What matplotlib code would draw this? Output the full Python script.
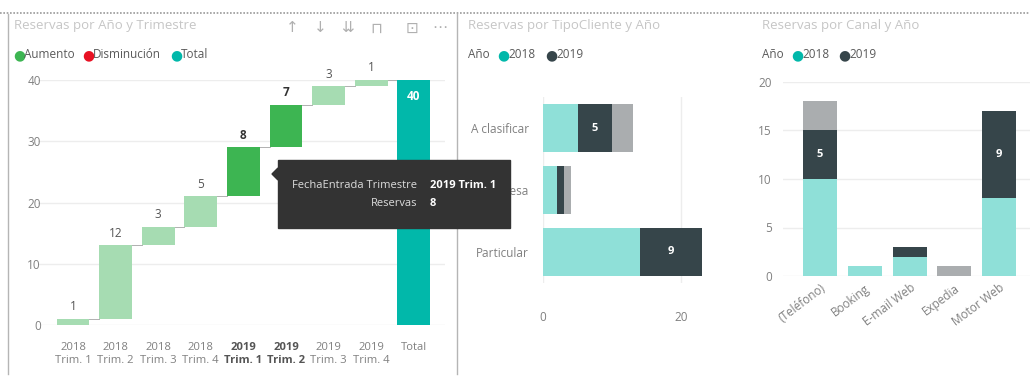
import matplotlib
matplotlib.use("Agg")
import matplotlib.pyplot as plt
from matplotlib.patches import Rectangle, Polygon
from matplotlib.lines import Line2D

plt.rcParams["font.family"] = ["Open Sans", "DejaVu Sans"]

# ── data ──────────────────────────────────────────────────────────────────────
wf_years = ["2018", "2018", "2018", "2018", "2019", "2019", "2019", "2019", "Total"]
wf_trims = ["Trim. 1", "Trim. 2", "Trim. 3", "Trim. 4",
            "Trim. 1", "Trim. 2", "Trim. 3", "Trim. 4", ""]
wf_values = [1, 12, 3, 5, 8, 7, 3, 1]
wf_selected = [False, False, False, False, True, True, False, False]

tipo_cats = ["A clasificar", "Empresa", "Particular"]
tipo_2018 = [5, 2, 14]
tipo_2019 = [5, 1, 9]
tipo_other = [3, 1, 0]

canal_cats = ["(Teléfono)", "Booking", "E-mail Web", "Expedia", "Motor Web"]
canal_2018 = [10, 1, 2, 0, 8]
canal_2019 = [5, 0, 1, 0, 9]
canal_other = [3, 0, 0, 1, 0]

# ── style ─────────────────────────────────────────────────────────────────────
W, H = 1030, 378
GREEN_LIGHT = "#a6dcb2"
GREEN = "#3db552"
TEAL = "#01b8aa"
TEAL_LIGHT = "#8fe0d8"
DARK = "#36454a"
GREY_BAR = "#aaadaf"
TICK = "#808080"
TITLE = "#c6c6c6"
GRID = "#ededed"


def rect(x0, y0, x1, y1):
    """pixel box (top-left origin) -> figure fraction rect"""
    return [x0 / W, 1 - y1 / H, (x1 - x0) / W, (y1 - y0) / H]


def fx(x):
    return x / W


def fy(y):
    return 1 - y / H


def clean(ax):
    for s in ax.spines.values():
        s.set_visible(False)
    ax.tick_params(length=0, colors=TICK, labelsize=8.5)


fig = plt.figure(figsize=(W / 100, H / 100), dpi=100)

# ── frames / header decoration ────────────────────────────────────────────────
fig.add_artist(Line2D([0, 1], [fy(13), fy(13)], color="#9a9a9a", lw=1.2,
                      ls=(0, (1, 1)), transform=fig.transFigure))
for x in (8, 457):
    fig.add_artist(Line2D([fx(x), fx(x)], [fy(14), fy(374)], color="#b5b5b5",
                          lw=1.0, transform=fig.transFigure))

fig.text(fx(14), fy(25), "Reservas por Año y Trimestre", color=TITLE,
         fontsize=9.5, va="center")
fig.text(fx(468), fy(25), "Reservas por TipoCliente y Año", color=TITLE,
         fontsize=9.5, va="center")
fig.text(fx(762), fy(25), "Reservas por Canal y Año", color=TITLE,
         fontsize=9.5, va="center")

for x, s in zip([292, 320, 348, 376, 412, 440], ["↑", "↓", "⇊", "⊓", "⊡", "⋯"]):
    fig.text(fx(x), fy(28), s, color="#b0b0b0", fontsize=11, ha="center",
             va="center", family="DejaVu Sans")

# legends
def dot_legend(y, items):
    for xx, col, lab in items:
        fig.text(fx(xx), fy(y), "●", color=col, fontsize=10, va="center",
                 ha="left", family="DejaVu Sans")
        fig.text(fx(xx + 11), fy(y), lab, color="#5a5a5a", fontsize=8.5,
                 va="center", ha="left")

dot_legend(55, [(13, GREEN, "Aumento"), (82, "#e81123", "Disminución"),
                (170, TEAL, "Total")])
fig.text(fx(468), fy(55), "Año", color="#5a5a5a", fontsize=8.5, va="center")
dot_legend(55, [(497, TEAL, "2018"), (545, DARK, "2019")])
fig.text(fx(762), fy(55), "Año", color="#5a5a5a", fontsize=8.5, va="center")
dot_legend(55, [(791, TEAL, "2018"), (838, DARK, "2019")])

# ── waterfall ─────────────────────────────────────────────────────────────────
ax1 = fig.add_axes(rect(38, 80, 445, 325))
clean(ax1)
ax1.set_xlim(-0.82, 8.73)
ax1.set_ylim(0, 40)
ax1.set_yticks([0, 10, 20, 30, 40])
ax1.yaxis.grid(True, color=GRID, lw=1)
ax1.set_axisbelow(True)
ax1.tick_params(axis="y", pad=-2)

bw = 0.77
bottom = 0
for i, (v, sel) in enumerate(zip(wf_values, wf_selected)):
    col = GREEN if sel else GREEN_LIGHT
    ax1.bar(i, v, bottom=bottom, width=bw, color=col, edgecolor="none")
    ax1.annotate(str(v), (i, bottom + v), xytext=(0, 4),
                 textcoords="offset points", ha="center", va="bottom",
                 fontsize=8.5, color="#333333" if sel else "#555555",
                 fontweight="bold" if sel else "normal")
    top = bottom + v
    ax1.plot([i + bw / 2, i + 1 - bw / 2], [top, top], color="#b0b0b0",
             lw=0.7, zorder=1)
    bottom = top
total = sum(wf_values)
ax1.bar(len(wf_values), total, width=bw, color=TEAL, edgecolor="none")
ax1.annotate(str(total), (len(wf_values), total), xytext=(0, -7),
             textcoords="offset points", ha="center", va="top",
             fontsize=8.5, color="white", fontweight="bold")

ax1.set_xticks(range(len(wf_years)))
ax1.set_xticklabels([f"{y}\n{t}" if t else y for y, t in zip(wf_years, wf_trims)],
                    linespacing=1.35, fontsize=8.1)
ax1.tick_params(axis="x", pad=12)
for lab, sel in zip(ax1.get_xticklabels(), wf_selected + [False]):
    lab.set_verticalalignment("top")
    if sel:
        lab.set_fontweight("bold")
        lab.set_color("#555555")

# ── tipo cliente (horizontal stacked) ─────────────────────────────────────────
ax2 = fig.add_axes(rect(543, 97, 710, 283))
clean(ax2)
ax2.set_xlim(0, 24.2)
ax2.set_ylim(2.5, -0.5)
ax2.set_xticks([0, 20])
ax2.xaxis.grid(True, color=GRID, lw=1)
ax2.set_axisbelow(True)
ax2.set_yticks(range(len(tipo_cats)))
ax2.set_yticklabels(tipo_cats)
ax2.tick_params(axis="y", pad=10)
ax2.tick_params(axis="x", pad=20)
bh = 0.76
left = [0] * len(tipo_cats)
for vals, col in ((tipo_2018, TEAL_LIGHT), (tipo_2019, DARK), (tipo_other, GREY_BAR)):
    ax2.barh(range(len(tipo_cats)), vals, left=left, height=bh, color=col,
             edgecolor="none")
    if col == DARK:
        for i, (l, v) in enumerate(zip(left, vals)):
            if v >= 5:
                ax2.text(l + v / 2, i, str(v), color="white", fontsize=8,
                         fontweight="bold", ha="center", va="center")
    left = [a + b for a, b in zip(left, vals)]

# ── canal (vertical stacked) ──────────────────────────────────────────────────
ax3 = fig.add_axes(rect(783, 82, 1030, 276))
clean(ax3)
ax3.set_xlim(-0.83, 4.69)
ax3.set_ylim(0, 20)
ax3.set_yticks([0, 5, 10, 15, 20])
ax3.yaxis.grid(True, color=GRID, lw=1)
ax3.set_axisbelow(True)
ax3.tick_params(axis="y", pad=8)
bottom = [0] * len(canal_cats)
for vals, col in ((canal_2018, TEAL_LIGHT), (canal_2019, DARK), (canal_other, GREY_BAR)):
    ax3.bar(range(len(canal_cats)), vals, bottom=bottom, width=0.76, color=col,
            edgecolor="none")
    if col == DARK:
        for i, (b, v) in enumerate(zip(bottom, vals)):
            if v >= 5:
                ax3.text(i, b + v / 2, str(v), color="white", fontsize=8,
                         fontweight="bold", ha="center", va="center")
    bottom = [a + b for a, b in zip(bottom, vals)]
ax3.set_xticks(range(len(canal_cats)))
ax3.set_xticklabels(canal_cats, rotation=37, ha="right", va="top",
                    rotation_mode="anchor")
ax3.tick_params(axis="x", pad=4)

# ── tooltip ───────────────────────────────────────────────────────────────────
fig.add_artist(Rectangle((fx(278), fy(228)), fx(510) - fx(278), fy(160) - fy(228),
                         transform=fig.transFigure, color="#333333", zorder=10))
fig.add_artist(Polygon([(fx(278), fy(168)), (fx(272), fy(174)), (fx(278), fy(180))],
                       closed=True, transform=fig.transFigure, color="#333333",
                       zorder=10))
fig.text(fx(417), fy(186), "FechaEntrada Trimestre", color="#dddddd", fontsize=8,
         ha="right", va="center", zorder=11)
fig.text(fx(430), fy(186), "2019 Trim. 1", color="white", fontsize=8,
         fontweight="bold", ha="left", va="center", zorder=11)
fig.text(fx(417), fy(203), "Reservas", color="#dddddd", fontsize=8,
         ha="right", va="center", zorder=11)
fig.text(fx(430), fy(203), "8", color="white", fontsize=8,
         fontweight="bold", ha="left", va="center", zorder=11)

fig.savefig("out.png", dpi=100)
